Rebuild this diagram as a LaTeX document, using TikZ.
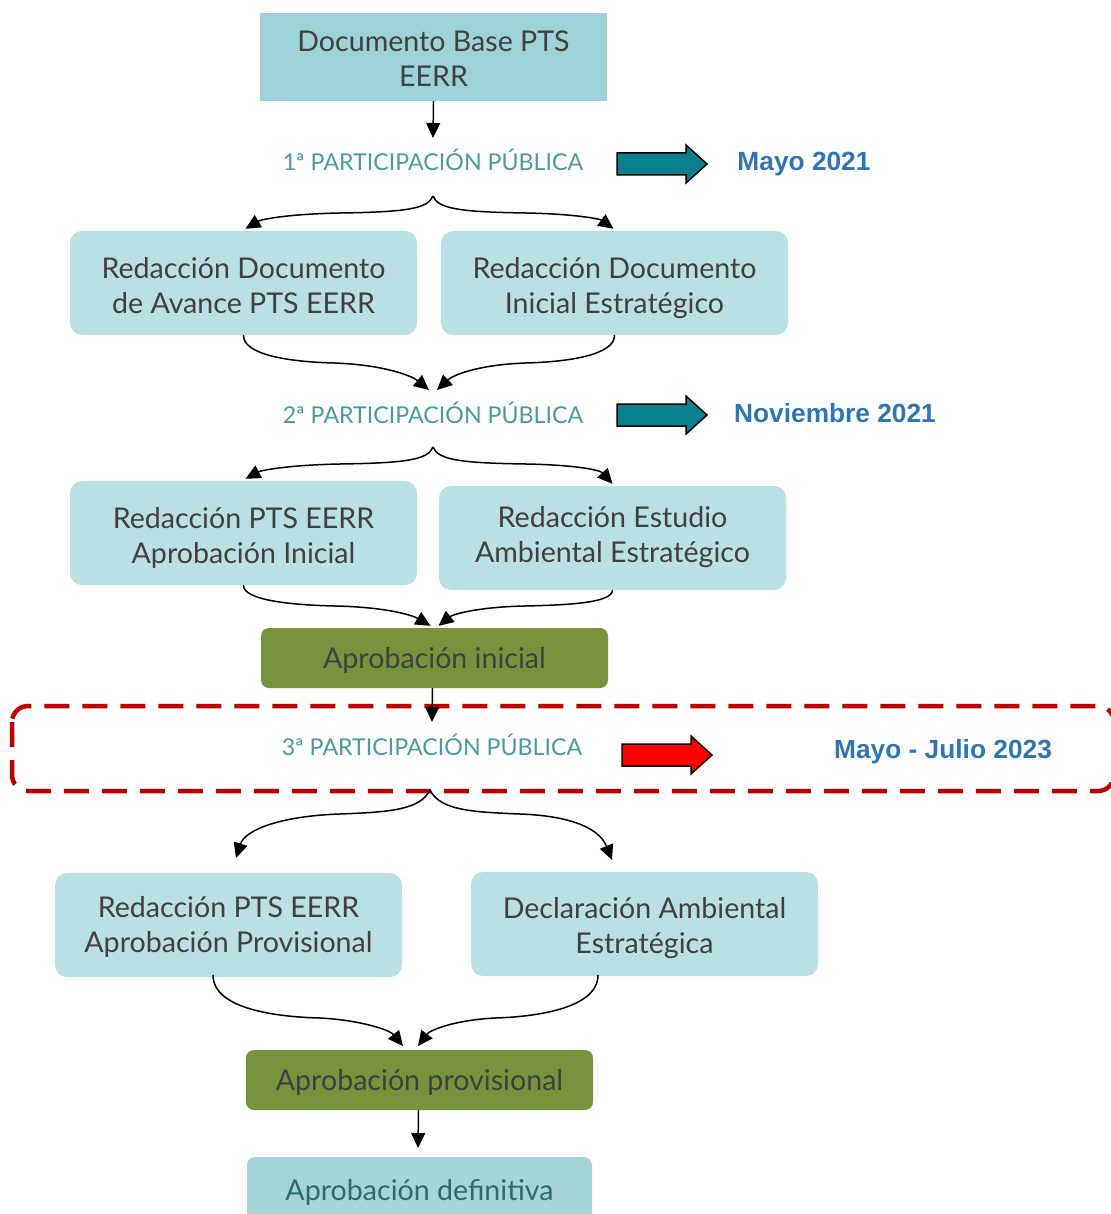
\documentclass[tikz,border=0pt]{standalone}
\usepackage{fontspec}
\setmainfont{Lato}
\newfontfamily\datefont{Liberation Sans}
\usetikzlibrary{arrows.meta,calc}
\definecolor{boxtop}{HTML}{9DD3D8}
\definecolor{boxlight}{HTML}{BAE0E3}
\definecolor{boxfinal}{HTML}{A3D5D9}
\definecolor{greenbox}{HTML}{77933C}
\definecolor{txtdark}{HTML}{404040}
\definecolor{txtfinal}{HTML}{2E6B70}
\definecolor{parttxt}{HTML}{4A9A9E}
\definecolor{dateblue}{HTML}{2E75B6}
\definecolor{tealarrow}{HTML}{08808E}
\definecolor{reddash}{HTML}{C00000}
\definecolor{redarrow}{HTML}{FF0000}
\tikzset{
  box/.style={fill=boxlight, rounded corners=12pt, minimum width=347pt, minimum height=104pt, inner sep=0pt, align=center, text=txtdark, font=\fontsize{28.6}{35}\selectfont, text height=60pt, text depth=0pt},
  gbox/.style={fill=greenbox, rounded corners=8pt, minimum width=347pt, minimum height=60pt, inner sep=0pt, align=center, text=txtdark, font=\fontsize{28.6}{35}\selectfont, text height=20pt, text depth=0pt},
  part/.style={text=parttxt, inner sep=0pt, font=\fontsize{23.2}{27}\selectfont},
  datel/.style={text=dateblue, inner sep=0pt, font=\datefont\bfseries\fontsize{26.3}{30}\selectfont},
  blockarrow/.style={draw=black, line width=1.5pt, line join=miter},
  arr/.style={draw=black, line width=1.5pt, -{Triangle[length=15pt,width=14pt]}},
}
\newcommand{\blockarr}[2]{%
  \draw[blockarrow, fill=#2] (#1) ++(0,-11) -- ++(69,0) -- ++(0,-8) -- ++(21,19) -- ++(-21,19) -- ++(0,-8) -- ++(-69,0) -- cycle;}
\begin{document}
\begin{tikzpicture}[x=1pt,y=-1pt]
\useasboundingbox (0,0) rectangle (1110,1214);
% boxes
\node[box, fill=boxtop, rounded corners=0pt, minimum height=88pt] (b1) at (433.5,57) {Documento Base PTS\\EERR};
\node[part] (p1) at (433,160) {1ª PARTICIPACIÓN PÚBLICA};
\coordinate (a1) at (617,164);
\blockarr{a1}{tealarrow}
\node[datel] (d1) at (804,164) {Mayo 2021};

\node[box] (b2l) at (243.5,283) {Redacción Documento\\de Avance PTS EERR};
\node[box] (b2r) at (614.5,283) {Redacción Documento\\Inicial Estratégico};

\node[part] (p2) at (433,413) {2ª PARTICIPACIÓN PÚBLICA};
\coordinate (a2) at (617,415);
\blockarr{a2}{tealarrow}
\node[datel] (d2) at (835,413) {Noviembre 2021};

\node[box] (b3l) at (243.5,533) {Redacción PTS EERR\\Aprobación Inicial};
\node[box, text height=48pt] (b3r) at (612.5,538) {Redacción Estudio\\Ambiental Estratégico};

\node[gbox] (g1) at (434.5,658) {Aprobación inicial};

\draw[reddash, line width=4.5pt, dash pattern=on 25pt off 13pt, rounded corners=16pt] (12,706) rectangle (1114,791);
\node[part] (p3) at (432,745) {3ª PARTICIPACIÓN PÚBLICA};
\coordinate (a3) at (622,755);
\blockarr{a3}{redarrow}
\node[datel] (d3) at (943,752) {Mayo - Julio 2023};

\node[box, text height=54pt] (b4l) at (228.5,925) {Redacción PTS EERR\\Aprobación Provisional};
\node[box, text height=58pt] (b4r) at (644.5,924) {Declaración Ambiental\\Estratégica};

\node[gbox] (g2) at (419.5,1080) {Aprobación provisional};
\node[box, fill=boxfinal, rounded corners=8pt, minimum width=345pt, minimum height=66pt, text=txtfinal, text height=20pt] (bf) at (419.5,1190) {Aprobación definitiva};

% coordinates
\coordinate (p1in) at (433,138);
\coordinate (s1) at (433,196);
\coordinate (c1l) at (429,390);
\coordinate (c1r) at (437,390);
\coordinate (s2) at (433,447);
\coordinate (p3in) at (432,722);
\coordinate (s3) at (430,790);
\coordinate (t3l) at (236,858);
\coordinate (t3r) at (612,860);
\coordinate (o4l) at (213,975);
\coordinate (o4r) at (598,975);
\coordinate (c4l) at (403,1046);
\coordinate (c4r) at (418,1046);
\coordinate (fin) at (418,1148);

% connectors
\draw[arr] (b1.south) -- (p1in);
\draw[arr] (s1) .. controls (428,209) and (405,212) .. (340,213) .. controls (290,214) and (262,219) .. ($(b2l.north)+(2,-2)$);
\draw[arr] (s1) .. controls (438,209) and (461,212) .. (526,213) .. controls (576,214) and (600,219) .. ($(b2r.north)+(-1,-2)$);
\draw[arr] (b2l.south) .. controls (243,355) and (290,362) .. (335,363) .. controls (385,365) and (412,376) .. (c1l);
\draw[arr] (b2r.south) .. controls (615,355) and (568,362) .. (525,363) .. controls (475,365) and (452,376) .. (c1r);
\draw[arr] (s2) .. controls (428,460) and (405,463) .. (340,464) .. controls (290,465) and (262,470) .. ($(b3l.north)+(2,-2)$);
\draw[arr] (s2) .. controls (438,460) and (461,463) .. (526,464) .. controls (576,465) and (600,470) .. ($(b3r.north)+(0,-2)$);
\draw[arr] (b3l.south) .. controls (243,600) and (290,605) .. (335,606) .. controls (385,607) and (412,615) .. ($(g1.north)+(-4,-2)$);
\draw[arr] (b3r.south) .. controls (612,603) and (568,605) .. (525,606) .. controls (475,607) and (452,615) .. ($(g1.north)+(4,-2)$);
\draw[arr] (g1.south) ++(-2,0) -- (p3in);
\draw[arr] (s3) .. controls (420,810) and (390,812) .. (340,814) .. controls (280,816) and (245,830) .. (t3l);
\draw[arr] (s3) .. controls (440,810) and (470,812) .. (520,814) .. controls (575,816) and (600,830) .. (t3r);
\draw[arr] (o4l) .. controls (213,1010) and (280,1017) .. (320,1018) .. controls (360,1020) and (390,1030) .. (c4l);
\draw[arr] (o4r) .. controls (598,1010) and (530,1017) .. (495,1018) .. controls (455,1020) and (430,1030) .. (c4r);
\draw[arr] (g2.south) ++(-1,0) -- (fin);
\end{tikzpicture}
\end{document}
